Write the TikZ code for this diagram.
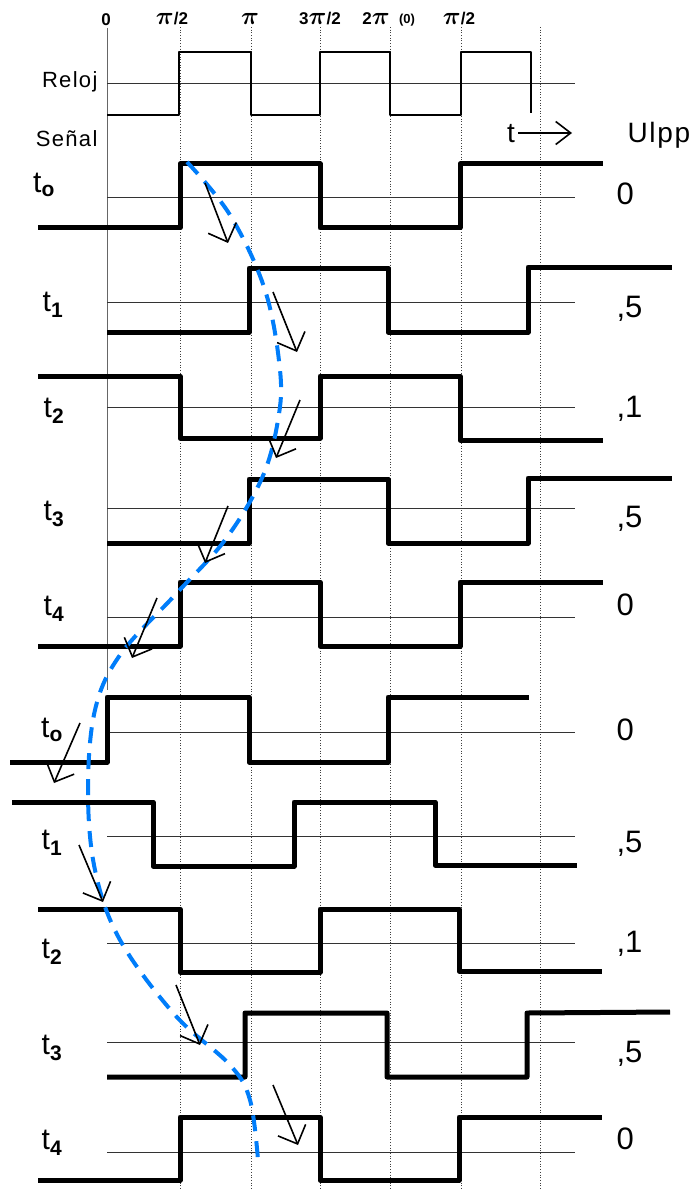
\documentclass[tikz,border=0pt]{standalone}
\usepackage{amsmath}
\usepackage{fontspec}
\setmainfont{Liberation Sans}
\newfontfamily\spacedfont{Liberation Sans}[LetterSpace=6]
\usetikzlibrary{arrows.meta}
\definecolor{sigblue}{RGB}{0,125,250}
\newcommand{\bpi}{{\fontsize{25}{25}\selectfont$\boldsymbol{\pi}$}}

\begin{document}
\begin{tikzpicture}[x=1pt,y=-1pt,
  wave/.style={line width=5pt,line join=round},
  clk/.style={line width=2.2pt,line join=round},
  refline/.style={line width=0.8pt,black!80},
  phaseline/.style={dotted,line width=0.7pt,black!75},
  trace/.style={line width=4pt,sigblue,dash pattern=on 16pt off 10pt},
  tip/.style={-{Straight Barb[length=15pt,width=30pt]},line width=1.6pt},
  rowlbl/.style={font=\fontsize{30}{30}\selectfont},
  vallbl/.style={font=\fontsize{31}{31}\selectfont,anchor=base west},
  phase/.style={font=\fontsize{17}{17}\selectfont\bfseries,inner sep=1pt}]
  \useasboundingbox (0,0) rectangle (697,1190);

  % phase grid and time axis
  \foreach \x in {180,251,320,390,461,540}
    \draw[phaseline] (\x,27) -- (\x,1190);
  \draw[line width=0.8pt,black!60] (107,28) -- (107,690);

  % reference (mid) lines of clock and signals
  \foreach \y in {83,197,302,407,508,617,732,836,943,1042,1152}
    \draw[refline] (107,\y) -- (575,\y);

  % phase labels
  \node[phase] (ph0) at (106,20) {0};
  \node[phase] (ph1) at (172,19) {\bpi/2};
  \node[phase] (ph2) at (250,19) {\bpi};
  \node[phase] (ph3) at (320,19) {3\bpi/2};
  \node[phase] (ph4) at (376,19) {2\bpi};
  \node[phase,font=\fontsize{13}{13}\selectfont\bfseries] (ph4b) at (407,20) {(0)};
  \node[phase] (ph5) at (459,19) {\bpi/2};

  % clock
  \draw[clk] (107,115) -| (179,52) -| (251,115) -| (320,52) -| (390,115)
    -| (461,52) -| (531,113);
  \node[font=\fontsize{22}{22}\spacedfont,anchor=base east] (reloj) at (101,88) {Reloj};
  \node[font=\fontsize{22}{22}\spacedfont,anchor=base east] (senal) at (101,147) {Señal};
  \node[font=\fontsize{28}{28}\selectfont,anchor=base] (tt) at (511,143) {t};
  \coordinate (tarr) at (572,133);
  \draw[-{Straight Barb[length=15pt,width=23pt]},line width=1.6pt]
    (tt.east |- tarr) -- (tarr);
  \node[font=\fontsize{28}{28}\spacedfont,anchor=base west] (ulpp) at (624,143) {Ulpp};

  % signal at successive instants
  \draw[wave] (38,228) -| (180,164) -| (320,228) -| (460,164) -- (603,164);
  \draw[wave] (107,332) -| (249,268) -| (388,332) -| (528,267) -- (672,267);
  \draw[wave] (38,376) -| (180,438) -| (320,376) -| (460,440) -- (603,440);
  \draw[wave] (107,543) -| (249,479) -| (388,543) -| (528,478) -- (672,478);
  \draw[wave] (38,646) -| (180,582) -| (320,646) -| (460,582) -- (603,582);
  \draw[wave] (10,762) -| (107,697) -| (249,762) -| (388,697) -- (529,697);
  \draw[wave] (12,802) -| (153,866) -| (294,802) -| (435,865) -- (577,865);
  \draw[wave] (38,909) -| (180,972) -| (320,909) -| (459,971) -- (602,971);
  \draw[wave] (107,1077) -| (245,1013) -| (387,1077) -| (527,1013) -- (670,1012);
  \draw[wave] (38,1180) -| (180,1117) -| (320,1180) -| (459,1117) -- (602,1117);

  % row labels
  \foreach \n/\pos/\sub in {1/{44,185}/o,2/{53,305}/1,3/{54,411}/2,4/{54,514}/3,
      5/{54,609}/4,6/{52,730}/o,7/{52,843}/1,8/{52,952}/2,9/{52,1048}/3,10/{52,1143}/4}
    \node[rowlbl] (row\n) at (\pos) {t\textsubscript{\textbf{\sub}}};

  % Ulpp values
  \foreach \n/\pos/\v in {1/{613,205}/0,2/{613,317}/{,5},3/{613,417}/{,1},4/{613,527}/{,5},
      5/{613,615}/0,6/{613,740}/0,7/{613,852}/{,5},8/{613,952}/{,1},9/{613,1062}/{,5},
      10/{613,1149}/0}
    \node[vallbl] (val\n) at (\pos) {\v};

  % path of the sampling point
  \draw[trace] plot[smooth,tension=0.6] coordinates
    {(187,162) (230,215) (265,290) (280,370) (278,420) (262,478) (225,540)
     (175,595) (120,655) (95,710) (88,790) (95,870) (120,940) (175,1015)
     (230,1065) (250,1100) (258,1160)};

  % direction arrows
  \foreach \n/\s/\e in {1/{205,183}/{228,243},2/{273,292}/{297,352},
      3/{300,400}/{276,458},4/{228,506}/{205,563},5/{157,598}/{132,658},
      6/{80,723}/{54,783},7/{79,845}/{103,902},8/{176,985}/{200,1045},
      9/{273,1085}/{298,1145}}
  {
    \coordinate (s\n) at (\s);
    \coordinate (e\n) at (\e);
    \draw[tip] (s\n) -- (e\n);
  }
\end{tikzpicture}
\end{document}
